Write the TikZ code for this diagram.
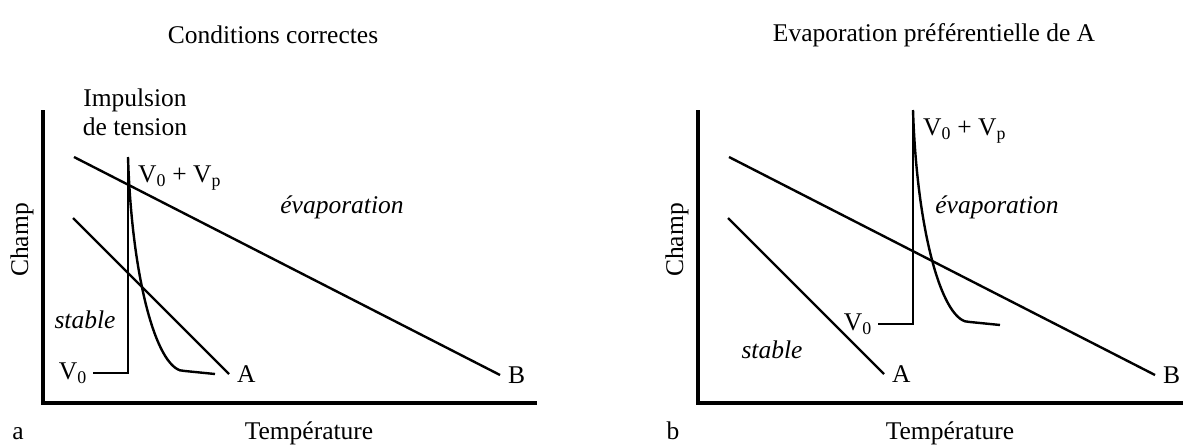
\documentclass[tikz,border=0pt]{standalone}
\usepackage{fontspec}
\setmainfont{Liberation Serif}
\usetikzlibrary{positioning}

\begin{document}
\begin{tikzpicture}[x=1pt,y=-1pt,line width=2.4pt,
  font=\fontsize{25.5}{29}\selectfont,
  axe/.style={line width=3.4pt},
  lbl/.style={inner sep=0pt}]
  \useasboundingbox (0,0) rectangle (1184,445);
  \node (titreA) at (273,35) {Conditions correctes};
  \node (titreB) at (934,35) {Evaporation préférentielle de A};
  \node[align=center,inner sep=0pt] (impulsion) at (135,112) {Impulsion\\de tension};
  \foreach \o/\n/\e/\px/\pb/\pt/\sx/\sy/\tx in
  {
      0/a/537/128/373/157/85/320/309,
    655/b/1183/913/324/110/772/350/950%
  }
  {
    % axes
    \coordinate (Y\n) at (\o+43,110);
    \coordinate (O\n) at (\o+43,403);
    \coordinate (X\n) at (\e,403);
    \draw[axe] (Y\n) -- (O\n) -- (X\n);
    \node[rotate=90] (champ\n) at (\o+22,240) {Champ};
    \node[lbl,anchor=base] (temp\n) at (\tx,439) {Température};
    \node[lbl,anchor=base] (lettre\n) at (\o+18,439) {\n};
    % droites A et B
    \coordinate (A1\n) at (\o+73,218);
    \coordinate (A2\n) at (\o+229,374);
    \coordinate (B1\n) at (\o+74,157);
    \coordinate (B2\n) at (\o+500,375);
    \draw (A1\n) -- (A2\n);
    \draw (B1\n) -- (B2\n);
    \node[lbl,right=7pt of A2\n] (labA\n) {A};
    \node[lbl,right=7pt of B2\n] (labB\n) {B};
    % impulsion
    \coordinate (v0\n) at (\px-35,\pb);
    \coordinate (pb\n) at (\px,\pb);
    \coordinate (pt\n) at (\px,\pt);
    \coordinate (fin\n) at (\px+87,\pb+1);
    \draw (v0\n) -- (pb\n) -- (pt\n);
    \draw (pt\n) .. controls (\px+4,\pb-90) and (\px+30,\pb) .. (\px+57,\pb-2) -- (fin\n);
    \node[lbl,left=5pt of v0\n] (V0\n) {V\textsubscript{0}};
    \node[lbl,anchor=west] (Vp\n) at (\px+9,\pt+21) {V\textsubscript{0} + V\textsubscript{p}};
    \node (evap\n) at (\o+342,207) {\itshape évaporation};
    \node (stable\n) at (\sx,\sy) {\itshape stable};
  }
\end{tikzpicture}
\end{document}
